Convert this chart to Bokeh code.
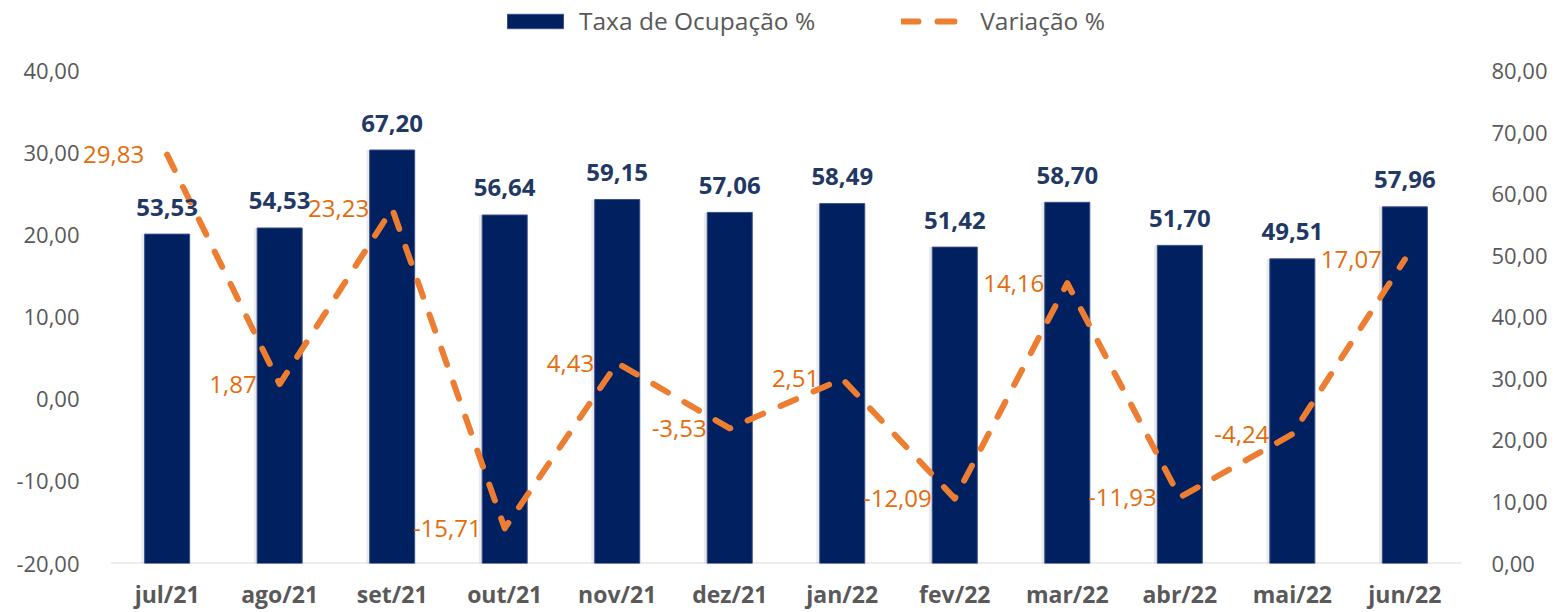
from bokeh.plotting import figure
from bokeh.models import (ColumnDataSource, Range1d, LinearAxis, FixedTicker, FactorRange,
                          CustomJSTickFormatter, Legend, LegendItem)
from bokeh.core.properties import value
from bokeh.transform import dodge
from bokeh.embed import file_html
from bokeh.resources import INLINE

months = ["jul/21", "ago/21", "set/21", "out/21", "nov/21", "dez/21",
          "jan/22", "fev/22", "mar/22", "abr/22", "mai/22", "jun/22"]
ocupacao = [53.53, 54.53, 67.20, 56.64, 59.15, 57.06, 58.49, 51.42, 58.70, 51.70, 49.51, 57.96]
variacao = [29.83, 1.87, 23.23, -15.71, 4.43, -3.53, 2.51, -12.09, 14.16, -11.93, -4.24, 17.07]
left_ticks = [-20, -10, 0, 10, 20, 30, 40]
right_ticks = [0, 10, 20, 30, 40, 50, 60, 70, 80]

def fmt(v):
    return f"{v:.2f}".replace(".", ",")

src = ColumnDataSource(dict(
    m=months, occ=ocupacao, var=variacao,
    occ_lbl=[fmt(v) for v in ocupacao],
    var_lbl=[fmt(v) for v in variacao],
))

FONT = "Open Sans"
GREY = "#595959"
NAVY = "#002060"
ORANGE = "#ED7D31"

# layout geometry (pixels)
W, H = 1555, 612
AXIS_H = 494          # pixel height of the tick span
TOP_EXTRA = 71        # frame extends above the top tick to hold the legend
PAD = 0.27            # extra category units on both sides

l_lo, l_hi = left_ticks[0], left_ticks[-1]
r_lo, r_hi = right_ticks[0], right_ticks[-1]
l_end = l_hi + (l_hi - l_lo) * TOP_EXTRA / AXIS_H
r_end = r_hi + (r_hi - r_lo) * TOP_EXTRA / AXIS_H

p = figure(width=W, height=H,
           x_range=FactorRange(factors=months, range_padding=PAD, range_padding_units="absolute"),
           y_range=Range1d(l_lo, l_end),
           output_backend="svg", toolbar_location=None,
           min_border_left=80, min_border_right=64, min_border_top=0,
           min_border_bottom=47)
p.outline_line_color = None
p.xgrid.grid_line_color = None
p.ygrid.grid_line_color = None
p.background_fill_color = "white"
p.border_fill_color = "white"

p.extra_y_ranges = {"occ": Range1d(r_lo, r_end)}

tick_fmt = CustomJSTickFormatter(code="return tick.toFixed(2).replace('.', ',');")

la = p.yaxis[0]
la.ticker = FixedTicker(ticks=left_ticks)
la.formatter = tick_fmt
la.axis_line_color = None
la.major_tick_line_color = None
la.minor_tick_line_color = None
la.major_label_text_font = FONT
la.major_label_text_font_size = "22px"
la.major_label_text_color = GREY
la.major_label_standoff = -5

ra = LinearAxis(y_range_name="occ", ticker=FixedTicker(ticks=right_ticks), formatter=tick_fmt)
ra.axis_line_color = None
ra.major_tick_line_color = None
ra.minor_tick_line_color = None
ra.major_label_text_font = FONT
ra.major_label_text_font_size = "22px"
ra.major_label_text_color = GREY
ra.major_label_standoff = -6
p.add_layout(ra, "right")

xa = p.xaxis[0]
xa.axis_line_color = None
xa.major_tick_line_color = None
xa.major_tick_out = 0
xa.major_tick_in = 0
xa.minor_tick_line_color = None
xa.major_label_text_font = FONT
xa.major_label_text_font_size = "23px"
xa.major_label_text_font_style = "bold"
xa.major_label_text_color = GREY
xa.major_label_standoff = 14

# baseline spanning the category area
p.segment(x0=[(months[0], -0.5)], x1=[(months[-1], 0.5)], y0=[r_lo], y1=[r_lo],
          y_range_name="occ", line_color="#D9D9D9", line_width=2)

# subtle bar shadow
p.vbar(x=dodge("m", -0.02, range=p.x_range), top="occ", bottom=0, width=0.42, source=src,
       y_range_name="occ", fill_color="#000000", fill_alpha=0.08, line_color=None)

bars = p.vbar(x="m", top="occ", bottom=0, width=0.40, source=src, y_range_name="occ",
              fill_color=NAVY, line_color="#3A5088", line_width=1)

line = p.line(x="m", y="var", source=src, line_color=ORANGE, line_width=6,
              line_dash="17 19", line_cap="round", line_join="round")

p.text(x="m", y="occ", text="occ_lbl", source=src, y_range_name="occ",
       text_align="center", text_baseline="alphabetic", y_offset=-27,
       text_font=value(FONT), text_font_style="bold", text_font_size="24px",
       text_color="#1F3864")

p.text(x="m", y="var", text="var_lbl", source=src,
       text_align="right", text_baseline="middle", x_offset=-23,
       text_font=value(FONT), text_font_size="24px", text_color="#E46C0A")

legend = Legend(items=[LegendItem(label="Taxa de Ocupação %", renderers=[bars]),
                       LegendItem(label="Variação %", renderers=[line])],
                orientation="horizontal", location=(420, 526),
                label_text_font=FONT, label_text_font_size="24.5px",
                label_text_color=GREY, glyph_width=70, glyph_height=18,
                spacing=86, border_line_color=None, background_fill_alpha=0,
                padding=4, margin=0, label_standoff=9)
p.add_layout(legend)

open("out.html", "w").write(file_html(p, INLINE))
